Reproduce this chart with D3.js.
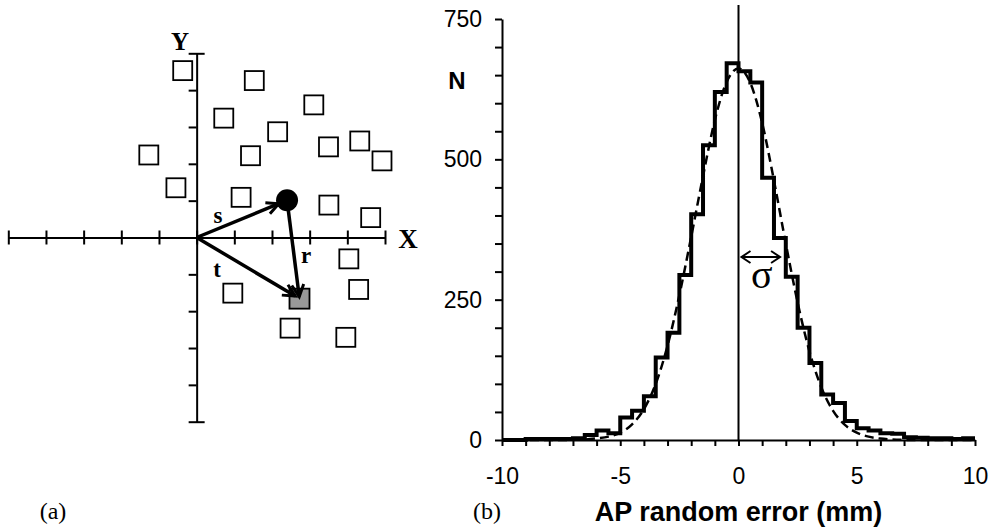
<!DOCTYPE html>
<html>
<head>
<meta charset="utf-8">
<script src="https://cdn.jsdelivr.net/npm/d3@7"></script>
<style>
  body { margin: 0; background: #fff; }
</style>
</head>
<body>
<div id="chart"></div>
<script>
// (a) scattered markers in the X-Y plane
const squareX = [-0.37, 1.53, 3.11, 0.72, 2.15, -1.27, 1.43, 3.50, 4.33, 4.92, -0.55, 1.18, 3.51, 4.62, 4.04, 0.96, 4.30, 2.48, 3.96];
const squareY = [4.53, 4.26, 3.60, 3.24, 2.87, 2.24, 2.22, 2.46, 2.62, 2.08, 1.35, 1.09, 0.88, 0.54, -0.58, -1.51, -1.41, -2.46, -2.71];
const dotPoint = [2.40, 1.01];
const greyPoint = [2.73, -1.66];
const planeTicks = [-5, -4, -3, -2, -1, 0, 1, 2, 3, 4, 5];

// (b) histogram of AP random error, 0.5 mm bins
const binStart = [-10, -9.5, -9, -8.5, -8, -7.5, -7, -6.5, -6, -5.5, -5, -4.5, -4, -3.5, -3, -2.5, -2, -1.5, -1, -0.5,
  0, 0.5, 1, 1.5, 2, 2.5, 3, 3.5, 4, 4.5, 5, 5.5, 6, 6.5, 7, 7.5, 8, 8.5, 9, 9.5];
const binCounts = [0, 0, 2, 2, 2, 2, 3, 9, 17, 12, 40, 52, 78, 147, 191, 294, 402, 525, 620, 671,
  657, 637, 467, 360, 291, 200, 137, 81, 66, 34, 21, 17, 12, 11, 5, 4, 3, 3, 2, 3];
const fitX = [-10, -9.5, -9, -8.5, -8, -7.5, -7, -6.5, -6, -5.5, -5, -4.5, -4, -3.5, -3, -2.5, -2, -1.5, -1, -0.5,
  0, 0.5, 1, 1.5, 2, 2.5, 3, 3.5, 4, 4.5, 5, 5.5, 6, 6.5, 7, 7.5, 8, 8.5, 9, 9.5, 10];
const fitN = [0, 0, 0, 0, 0, 0, 0.5, 1, 3, 6, 13, 28, 55, 100, 168, 258, 362, 470, 570, 638,
  662, 636, 565, 462, 350, 245, 158, 94, 52, 27, 13, 6, 2.5, 1, 0.3, 0, 0, 0, 0, 0, 0];
const xTickLabels = [-10, -5, 0, 5, 10];
const yTickLabels = [0, 250, 500, 750];
const sigmaValue = 1.8;

const W = 1002, H = 530;
const serif = '"Liberation Serif", "Times New Roman", serif';
const sans = '"Liberation Sans", Arial, sans-serif';

const svg = d3.select('#chart').append('svg')
  .attr('width', W).attr('height', H)
  .style('background', '#fff');

const defs = svg.append('defs');
function chevron(id, len, half, sw) {
  defs.append('marker')
    .attr('id', id)
    .attr('markerUnits', 'userSpaceOnUse')
    .attr('markerWidth', len + 4).attr('markerHeight', half * 2 + 4)
    .attr('refX', len).attr('refY', half + 2)
    .attr('orient', 'auto-start-reverse')
    .append('path')
    .attr('d', `M1,2 L${len},${half + 2} L1,${half * 2 + 2}`)
    .attr('fill', 'none').attr('stroke', '#000').attr('stroke-width', sw)
    .attr('stroke-linejoin', 'miter');
}
chevron('headA', 13, 6, 3);
chevron('headB', 10, 6, 2);

// ---------- panel (a) ----------
const xa = d3.scaleLinear().domain([-5, 5]).range([8.3, 385]);
const ya = d3.scaleLinear().domain([-5, 5]).range([421.7, 53.3]);

const gA = svg.append('g');

const axX = gA.append('g')
  .attr('transform', `translate(0,${ya(0)})`)
  .call(d3.axisBottom(xa).tickValues(planeTicks).tickSize(7).tickSizeOuter(0).tickFormat(''));
axX.selectAll('.tick line').attr('y1', -7);

const axY = gA.append('g')
  .attr('transform', `translate(${xa(0)},0)`)
  .call(d3.axisLeft(ya).tickValues(planeTicks).tickSize(8).tickSizeOuter(0).tickFormat(''));
axY.selectAll('.tick line').attr('x1', d => (Math.abs(d) === 5 ? 8 : 0));

gA.selectAll('.domain, .tick line').attr('stroke', '#000').attr('stroke-width', 2);

gA.selectAll('rect.sq')
  .data(squareX.map((x, i) => [x, squareY[i]]))
  .enter().append('rect')
  .attr('class', 'sq')
  .attr('x', d => xa(d[0]) - 9.5).attr('y', d => ya(d[1]) - 9.5)
  .attr('width', 19).attr('height', 19)
  .attr('fill', '#fff').attr('stroke', '#000').attr('stroke-width', 1.8);

gA.append('rect')
  .attr('x', xa(greyPoint[0]) - 10).attr('y', ya(greyPoint[1]) - 10)
  .attr('width', 20).attr('height', 20)
  .attr('fill', '#999').attr('stroke', '#000').attr('stroke-width', 1.8);

gA.append('circle')
  .attr('cx', xa(dotPoint[0])).attr('cy', ya(dotPoint[1]))
  .attr('r', 11).attr('fill', '#000');

function arrow(from, to, gapEnd) {
  const x0 = xa(from[0]), y0 = ya(from[1]);
  const x1 = xa(to[0]), y1 = ya(to[1]);
  const len = Math.hypot(x1 - x0, y1 - y0);
  const k = (len - gapEnd) / len;
  gA.append('line')
    .attr('x1', x0).attr('y1', y0)
    .attr('x2', x0 + (x1 - x0) * k).attr('y2', y0 + (y1 - y0) * k)
    .attr('stroke', '#000').attr('stroke-width', 3.5)
    .attr('marker-end', 'url(#headA)');
}
arrow([0, 0], dotPoint, 9);
arrow([0, 0], greyPoint, 5);
arrow(dotPoint, greyPoint, 2);

const lblA = [
  { t: 'Y', x: 180, y: 50, s: 25 },
  { t: 'X', x: 408, y: 248, s: 27 },
  { t: 's', x: 218, y: 223, s: 23 },
  { t: 't', x: 217, y: 277, s: 23 },
  { t: 'r', x: 306, y: 263, s: 23 }
];
gA.selectAll('text.lbl').data(lblA).enter().append('text')
  .attr('x', d => d.x).attr('y', d => d.y)
  .attr('text-anchor', 'middle')
  .style('font-family', serif).style('font-weight', 'bold')
  .style('font-size', d => d.s + 'px')
  .text(d => d.t);

svg.append('text').attr('x', 53).attr('y', 519).attr('text-anchor', 'middle')
  .style('font-family', serif).style('font-size', '24px').text('(a)');

// ---------- panel (b) ----------
const xb = d3.scaleLinear().domain([-10, 10]).range([502, 975]);
const yb = d3.scaleLinear().domain([0, 750]).range([440, 19]);
const gB = svg.append('g');

// zero line
gB.append('line')
  .attr('x1', xb(0)).attr('x2', xb(0))
  .attr('y1', yb(775)).attr('y2', yb(0))
  .attr('stroke', '#000').attr('stroke-width', 2);

const axBx = gB.append('g')
  .attr('transform', `translate(0,${yb(0)})`)
  .call(d3.axisBottom(xb).tickValues(d3.range(-10, 11, 1)).tickSize(6).tickSizeOuter(0).tickPadding(22)
    .tickFormat(d => (xTickLabels.includes(d) ? d : '')));

const axBy = gB.append('g')
  .attr('transform', `translate(${xb(-10)},0)`)
  .call(d3.axisLeft(yb).tickValues(d3.range(0, 751, 50)).tickSize(7).tickSizeOuter(0).tickPadding(13)
    .tickFormat(d => (yTickLabels.includes(d) ? d : '')));

gB.selectAll('.domain, .tick line').attr('stroke', '#000').attr('stroke-width', 2);
gB.selectAll('.tick text')
  .style('font-family', sans).style('font-size', '23px').attr('fill', '#000');

// histogram steps
const stepPts = binStart.map((x, i) => [x, binCounts[i]]);
stepPts.push([10, binCounts[binCounts.length - 1]]);
gB.append('path')
  .datum(stepPts)
  .attr('fill', 'none').attr('stroke', '#000').attr('stroke-width', 4)
  .attr('stroke-linejoin', 'miter')
  .attr('d', d3.line().x(d => xb(d[0])).y(d => yb(d[1])).curve(d3.curveStepAfter));

// fitted curve (dashed)
gB.append('path')
  .datum(fitX.map((x, i) => [x, fitN[i]]))
  .attr('fill', 'none').attr('stroke', '#000').attr('stroke-width', 2.5)
  .attr('stroke-dasharray', '9,5')
  .attr('d', d3.line().x(d => xb(d[0])).y(d => yb(d[1])).curve(d3.curveMonotoneX));

// sigma marker
gB.append('line')
  .attr('x1', xb(0) + 3).attr('x2', xb(sigmaValue) - 1)
  .attr('y1', 257).attr('y2', 257)
  .attr('stroke', '#000').attr('stroke-width', 2)
  .attr('marker-start', 'url(#headB)').attr('marker-end', 'url(#headB)');
gB.append('text')
  .attr('x', xb(sigmaValue / 2) + 2).attr('y', 288).attr('text-anchor', 'middle')
  .style('font-family', serif).style('font-size', '40px').text('σ');

gB.append('text').attr('x', 457).attr('y', 89).attr('text-anchor', 'middle')
  .style('font-family', sans).style('font-weight', 'bold').style('font-size', '24px').text('N');

gB.append('text').attr('x', xb(0)).attr('y', 521).attr('text-anchor', 'middle')
  .style('font-family', sans).style('font-weight', 'bold').style('font-size', '27px')
  .text('AP random error (mm)');

svg.append('text').attr('x', 487).attr('y', 519).attr('text-anchor', 'middle')
  .style('font-family', serif).style('font-size', '24px').text('(b)');
</script>
</body>
</html>
